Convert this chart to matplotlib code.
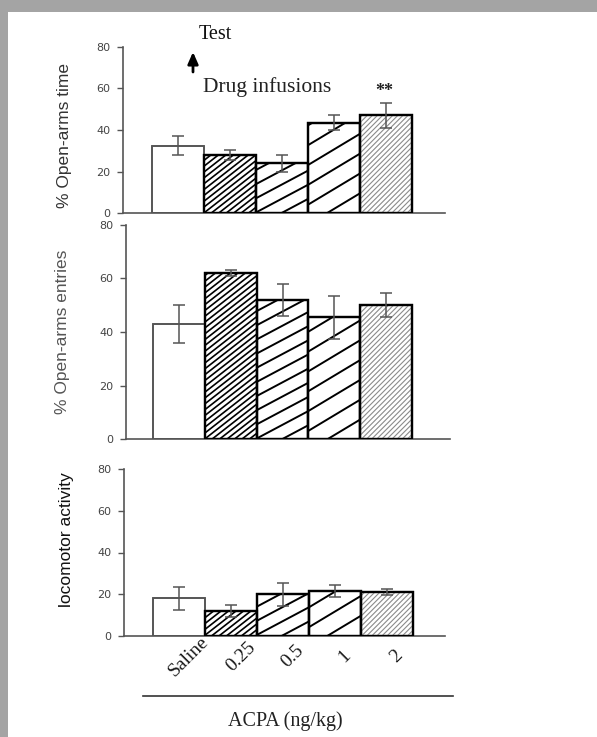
import numpy as np
import matplotlib
matplotlib.use("Agg")
import matplotlib.pyplot as plt
from matplotlib.patches import Rectangle, FancyArrowPatch
from matplotlib.lines import Line2D
from matplotlib.collections import LineCollection
from matplotlib.transforms import ScaledTranslation

# ---------------- data ----------------
categories = ["Saline", "0.25", "0.5", "1", "2"]
time_vals = [32.5, 28, 24, 43.5, 47]
time_err = [4.5, 2.5, 4, 3.5, 6]
entries_vals = [43, 62, 52, 45.5, 50]
entries_err = [7, 1.2, 6, 8, 4.5]
loco_vals = [18, 12, 20, 21.5, 21]
loco_err = [5.5, 3, 5.5, 3, 1.5]
yticks = [0, 20, 40, 60, 80]

W, H = 597, 737
fig = plt.figure(figsize=(W / 100, H / 100), dpi=100)
fig.patch.set_facecolor("#a4a4a4")
fig.patches.append(Rectangle((8 / W, 0), 1, 1 - 12 / H, transform=fig.transFigure,
                             facecolor="white", edgecolor="none", zorder=-10))

SERIF = ["Liberation Serif", "DejaVu Serif"]
SANS = ["Liberation Sans", "DejaVu Sans"]


def fpos(left, right, y0, ytop):
    return [left / W, 1 - y0 / H, (right - left) / W, (y0 - ytop) / H]


# hatch specs: (angle deg, perpendicular spacing px, color, lw)
hatches = [None,
           (38, 4.6, "black", 1.2),
           (28, 12.5, "black", 1.4),
           (31, 17.0, "black", 1.4),
           (45, 3.6, "#8a8a8a", 0.8)]


def draw_panel(rect, vals, errs, xlim, ylabel, ylab_x, ylab_y, lab_color, last=False):
    ax = fig.add_axes(rect)
    x = np.arange(len(vals))
    ax.set_xlim(*xlim)
    ax.set_ylim(0, 80)
    for s in ["top", "right"]:
        ax.spines[s].set_visible(False)
    for s in ["left", "bottom"]:
        ax.spines[s].set_color("#555555")
        ax.spines[s].set_linewidth(1.2)
    ax.set_yticks(yticks)
    ax.tick_params(axis="y", length=4, width=1, color="#555555", labelsize=8,
                   labelcolor="#444444", pad=5)
    ax.tick_params(axis="x", length=0)
    bars = ax.bar(x, vals, width=1.0, facecolor="white", edgecolor="black",
                  linewidth=1.6, zorder=2)
    bars[0].set_edgecolor("#555555")
    bars[0].set_linewidth(1.2)
    # custom hatch lines clipped to each bar
    fig.canvas.draw()
    bbox = ax.get_window_extent()
    pxx = bbox.width / (xlim[1] - xlim[0])
    pxy = bbox.height / 80.0
    for i, b in enumerate(bars):
        spec = hatches[i]
        if spec is None:
            continue
        ang, sp, col, lw = spec
        bx0, bw, bh = b.get_x(), b.get_width(), b.get_height()
        wpx, hpx = bw * pxx, bh * pxy
        slope = np.tan(np.radians(ang))
        vsp = sp / np.cos(np.radians(ang))
        segs = []
        c = -wpx * slope - vsp
        while c < hpx + vsp:
            segs.append([(bx0, c / pxy), (bx0 + bw, (c + slope * wpx) / pxy)])
            c += vsp
        lc = LineCollection(segs, colors=col, linewidths=lw, zorder=2.5)
        ax.add_collection(lc)
        lc.set_clip_path(b)
    # redraw edges on top
    ax.bar(x, vals, width=1.0, facecolor="none", edgecolor=[b.get_edgecolor() for b in bars],
           linewidth=[b.get_linewidth() for b in bars], zorder=3)
    ax.errorbar(x, vals, yerr=errs, fmt="none", ecolor="#555555", elinewidth=1.1,
                capsize=4.5, capthick=1.1, zorder=4)
    ax.set_xticks(x)
    if last:
        ax.set_xticklabels(categories, rotation=45, ha="center", va="center",
                           fontfamily=SERIF, fontsize=14, color="#1a1a1a")
        ax.tick_params(axis="x", pad=15)
        off = ScaledTranslation(10 / 100, 0, fig.dpi_scale_trans)
        for lab in ax.get_xticklabels():
            lab.set_transform(lab.get_transform() + off)
    else:
        ax.set_xticklabels([])
    fig.text(ylab_x / W, 1 - ylab_y / H, ylabel, rotation=90, ha="center", va="center",
             fontfamily=SANS, fontsize=12.5, color=lab_color)
    return ax


ax1 = draw_panel(fpos(123, 445, 213, 47), time_vals, time_err, (-1.06, 5.13),
                 "% Open-arms time", 65, 135, "#333333")
ax2 = draw_panel(fpos(126, 450, 439.3, 224.7), entries_vals, entries_err, (-1.02, 5.23),
                 "% Open-arms entries", 62, 332, "#555555")
ax3 = draw_panel(fpos(124, 445, 635.7, 469.3), loco_vals, loco_err, (-1.05, 5.12),
                 "locomotor activity", 67, 540, "#111111", last=True)

# annotations in top panel
fig.text(199 / W, 1 - 39 / H, "Test", ha="left", va="baseline", fontfamily=SERIF,
         fontsize=14.5, color="#111111")
fig.add_artist(FancyArrowPatch(
    (193 / W, 1 - 72 / H), (193 / W, 1 - 52 / H), transform=fig.transFigure,
    arrowstyle="-|>,head_length=0.5,head_width=0.22", mutation_scale=14,
    shrinkA=0, shrinkB=0, color="black", linewidth=2.0))
fig.text(203 / W, 1 - 92 / H, "Drug infusions", ha="left", va="baseline",
         fontfamily=SERIF, fontsize=15.5, color="#222222")
fig.text(384 / W, 1 - 91 / H, "**", ha="center", va="center", fontfamily=SERIF,
         fontsize=13, fontweight="bold", color="#222222")

# bottom line and x label
fig.add_artist(Line2D([143 / W, 453 / W], [1 - 696 / H, 1 - 696 / H],
                      transform=fig.transFigure, color="#333333", linewidth=1.2))
fig.text(285 / W, 1 - 721 / H, "ACPA (ng/kg)", ha="center", va="center",
         fontfamily=SERIF, fontsize=14.5, color="#222222")

fig.savefig("out.png", dpi=100, facecolor=fig.get_facecolor())
